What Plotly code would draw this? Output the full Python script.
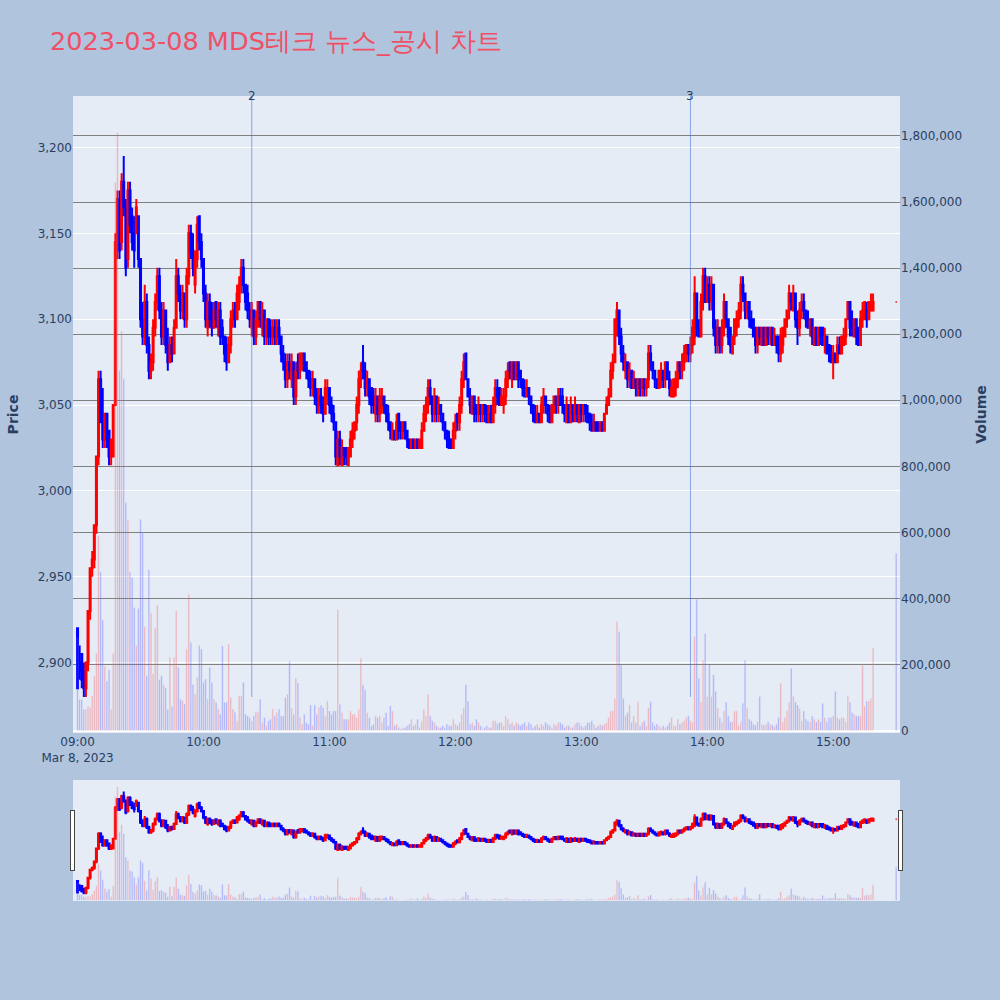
import pandas as pd
import plotly.graph_objects as go

# 1-minute candles, 09:00 ~ 15:19, then the 15:30 closing print
opens = [
    2920, 2900, 2905, 2895, 2885, 2900, 2930, 2955, 2960, 2980,
    3020, 3065, 3045, 3030, 3045, 3035, 3020, 3020, 3050, 3140,
    3170, 3145, 3180, 3165, 3135, 3175, 3160, 3150, 3150, 3160,
    3135, 3100, 3090, 3110, 3085, 3070, 3075, 3095, 3110, 3125,
    3105, 3090, 3105, 3085, 3075, 3085, 3080, 3095, 3125, 3115,
    3105, 3115, 3100, 3125, 3150, 3140, 3120, 3135, 3160, 3145,
    3135, 3115, 3095, 3110, 3105, 3095, 3110, 3095, 3105, 3095,
    3090, 3085, 3075, 3085, 3100, 3105, 3100, 3110, 3120, 3130,
    3120, 3115, 3105, 3095, 3105, 3090, 3100, 3110, 3095, 3105,
    3090, 3100, 3095, 3090, 3095, 3090, 3095, 3090, 3080, 3075,
    3065, 3075, 3065, 3075, 3055, 3075, 3070, 3075, 3080, 3075,
    3070, 3065, 3060, 3065, 3055, 3050, 3055, 3050, 3045, 3055,
    3060, 3050, 3045, 3040, 3015, 3030, 3015, 3025, 3025, 3015,
    3020, 3030, 3035, 3040, 3050, 3065, 3075, 3070, 3060, 3065,
    3060, 3055, 3045, 3055, 3045, 3050, 3055, 3050, 3045, 3040,
    3030, 3035, 3030, 3045, 3040, 3035, 3040, 3035, 3030, 3025,
    3030, 3025, 3030, 3025, 3025, 3035, 3045, 3050, 3060, 3055,
    3045, 3055, 3045, 3050, 3045, 3040, 3035, 3030, 3030, 3025,
    3035, 3045, 3040, 3050, 3065, 3080, 3065, 3055, 3045, 3055,
    3050, 3045, 3050, 3045, 3050, 3045, 3040, 3045, 3040, 3050,
    3060, 3060, 3050, 3050, 3055, 3065, 3075, 3065, 3075, 3065,
    3075, 3070, 3065, 3060, 3055, 3060, 3055, 3050, 3045, 3040,
    3045, 3040, 3050, 3055, 3050, 3045, 3040, 3050, 3055, 3050,
    3055, 3055, 3050, 3040, 3050, 3040, 3050, 3045, 3050, 3040,
    3050, 3045, 3050, 3045, 3045, 3040, 3035, 3040, 3040, 3035,
    3040, 3035, 3045, 3050, 3055, 3070, 3075, 3100, 3105, 3090,
    3080, 3070, 3075, 3065, 3070, 3060, 3065, 3060, 3065, 3060,
    3065, 3060, 3065, 3080, 3075, 3070, 3065, 3060, 3065, 3070,
    3065, 3075, 3065, 3055, 3055, 3060, 3065, 3075, 3070, 3075,
    3080, 3085, 3080, 3085, 3090, 3115, 3095, 3090, 3110, 3125,
    3110, 3120, 3110, 3120, 3095, 3085, 3095, 3085, 3095, 3110,
    3100, 3095, 3080, 3090, 3095, 3100, 3105, 3120, 3115, 3105,
    3110, 3100, 3100, 3095, 3085, 3095, 3085, 3095, 3085, 3095,
    3090, 3095, 3085, 3090, 3090, 3080, 3085, 3090, 3100, 3105,
    3115, 3105, 3115, 3100, 3095, 3105, 3110, 3105, 3100, 3095,
    3100, 3085, 3095, 3085, 3095, 3095, 3085, 3090, 3085, 3080,
    3075, 3080, 3075, 3085, 3080, 3085, 3090, 3100, 3110, 3100,
    3090, 3100, 3095, 3085, 3100, 3100, 3105, 3100, 3105, 3105,
    3110,
]
highs = [
    2920, 2910, 2905, 2900, 2900, 2930, 2955, 2965, 2980, 3020,
    3070, 3070, 3060, 3045, 3045, 3035, 3030, 3050, 3150, 3175,
    3175, 3185, 3195, 3170, 3180, 3180, 3165, 3160, 3170, 3160,
    3135, 3110, 3120, 3115, 3090, 3080, 3100, 3115, 3130, 3130,
    3110, 3110, 3105, 3095, 3090, 3090, 3100, 3135, 3130, 3120,
    3120, 3115, 3130, 3155, 3155, 3150, 3140, 3160, 3160, 3150,
    3135, 3120, 3115, 3115, 3110, 3110, 3110, 3110, 3110, 3100,
    3090, 3090, 3090, 3105, 3110, 3110, 3120, 3125, 3135, 3135,
    3120, 3120, 3110, 3110, 3105, 3105, 3110, 3110, 3110, 3105,
    3100, 3100, 3100, 3100, 3100, 3100, 3100, 3090, 3085, 3080,
    3080, 3080, 3080, 3075, 3075, 3080, 3080, 3080, 3080, 3075,
    3070, 3070, 3070, 3065, 3060, 3060, 3060, 3055, 3065, 3065,
    3060, 3055, 3050, 3040, 3035, 3035, 3030, 3025, 3025, 3025,
    3035, 3040, 3040, 3055, 3070, 3075, 3085, 3075, 3070, 3065,
    3060, 3060, 3060, 3055, 3060, 3060, 3055, 3050, 3050, 3040,
    3040, 3035, 3045, 3045, 3040, 3040, 3040, 3035, 3030, 3030,
    3030, 3030, 3030, 3030, 3040, 3050, 3055, 3065, 3065, 3055,
    3060, 3055, 3055, 3050, 3045, 3040, 3035, 3035, 3030, 3040,
    3045, 3045, 3055, 3070, 3080, 3080, 3065, 3060, 3055, 3055,
    3050, 3055, 3050, 3050, 3050, 3050, 3050, 3050, 3055, 3065,
    3065, 3060, 3060, 3060, 3070, 3075, 3075, 3075, 3075, 3075,
    3075, 3070, 3065, 3065, 3065, 3060, 3055, 3050, 3050, 3050,
    3045, 3055, 3060, 3055, 3050, 3050, 3050, 3055, 3055, 3060,
    3060, 3060, 3050, 3055, 3050, 3055, 3050, 3055, 3050, 3050,
    3050, 3050, 3050, 3050, 3045, 3045, 3045, 3040, 3040, 3040,
    3040, 3045, 3055, 3060, 3075, 3080, 3100, 3110, 3105, 3095,
    3085, 3080, 3075, 3075, 3070, 3070, 3065, 3065, 3065, 3065,
    3065, 3065, 3085, 3085, 3075, 3070, 3065, 3070, 3075, 3070,
    3075, 3075, 3070, 3065, 3065, 3070, 3075, 3075, 3080, 3085,
    3085, 3085, 3090, 3100, 3125, 3115, 3100, 3115, 3130, 3130,
    3125, 3125, 3125, 3120, 3100, 3100, 3095, 3100, 3115, 3110,
    3100, 3095, 3090, 3100, 3105, 3110, 3125, 3125, 3115, 3110,
    3110, 3105, 3100, 3095, 3095, 3095, 3095, 3095, 3095, 3095,
    3095, 3095, 3095, 3090, 3090, 3095, 3095, 3100, 3105, 3120,
    3115, 3120, 3115, 3105, 3110, 3115, 3115, 3105, 3105, 3100,
    3100, 3095, 3095, 3095, 3095, 3095, 3095, 3090, 3085, 3085,
    3085, 3080, 3090, 3090, 3090, 3095, 3100, 3110, 3110, 3105,
    3100, 3100, 3095, 3105, 3110, 3110, 3110, 3110, 3115, 3115,
    3110,
]
lows = [
    2885, 2890, 2885, 2880, 2880, 2895, 2925, 2950, 2955, 2975,
    3015, 3040, 3025, 3025, 3025, 3015, 3015, 3020, 3050, 3135,
    3135, 3140, 3160, 3125, 3130, 3150, 3140, 3130, 3150, 3130,
    3095, 3085, 3085, 3080, 3065, 3065, 3070, 3090, 3105, 3100,
    3085, 3085, 3080, 3070, 3075, 3075, 3080, 3095, 3110, 3100,
    3100, 3095, 3095, 3120, 3135, 3125, 3115, 3130, 3140, 3130,
    3110, 3095, 3090, 3095, 3090, 3095, 3095, 3090, 3085, 3085,
    3075, 3070, 3075, 3080, 3095, 3095, 3100, 3105, 3115, 3115,
    3105, 3100, 3095, 3090, 3085, 3085, 3095, 3095, 3090, 3085,
    3085, 3085, 3085, 3085, 3085, 3085, 3085, 3075, 3070, 3060,
    3060, 3065, 3060, 3050, 3050, 3065, 3065, 3070, 3070, 3065,
    3060, 3055, 3055, 3050, 3045, 3045, 3045, 3040, 3045, 3050,
    3045, 3040, 3035, 3015, 3015, 3015, 3015, 3015, 3015, 3015,
    3020, 3025, 3030, 3035, 3045, 3060, 3065, 3055, 3055, 3050,
    3045, 3045, 3040, 3040, 3040, 3045, 3045, 3040, 3035, 3030,
    3030, 3030, 3030, 3030, 3030, 3030, 3030, 3025, 3025, 3025,
    3025, 3025, 3025, 3025, 3025, 3035, 3040, 3045, 3050, 3040,
    3040, 3040, 3040, 3040, 3035, 3030, 3025, 3025, 3025, 3025,
    3030, 3035, 3035, 3045, 3060, 3065, 3055, 3045, 3045, 3040,
    3040, 3040, 3040, 3040, 3040, 3040, 3040, 3040, 3040, 3045,
    3050, 3050, 3050, 3045, 3050, 3060, 3065, 3060, 3065, 3065,
    3060, 3060, 3055, 3055, 3055, 3050, 3045, 3040, 3040, 3040,
    3040, 3040, 3045, 3045, 3040, 3040, 3040, 3045, 3045, 3045,
    3050, 3045, 3040, 3040, 3040, 3040, 3040, 3040, 3040, 3040,
    3040, 3040, 3040, 3040, 3035, 3035, 3035, 3035, 3035, 3035,
    3035, 3035, 3045, 3050, 3055, 3065, 3075, 3090, 3085, 3075,
    3070, 3065, 3060, 3060, 3060, 3060, 3055, 3055, 3055, 3055,
    3055, 3055, 3060, 3070, 3065, 3060, 3060, 3060, 3060, 3060,
    3060, 3065, 3055, 3055, 3055, 3055, 3060, 3065, 3065, 3070,
    3075, 3075, 3075, 3080, 3085, 3090, 3090, 3090, 3105, 3110,
    3110, 3105, 3105, 3090, 3080, 3080, 3080, 3080, 3090, 3095,
    3085, 3080, 3080, 3085, 3090, 3095, 3100, 3110, 3100, 3100,
    3095, 3095, 3090, 3080, 3080, 3085, 3085, 3085, 3085, 3085,
    3085, 3085, 3085, 3080, 3075, 3075, 3080, 3090, 3095, 3100,
    3105, 3105, 3095, 3085, 3090, 3100, 3100, 3095, 3095, 3090,
    3085, 3085, 3085, 3085, 3085, 3085, 3080, 3080, 3075, 3075,
    3065, 3075, 3075, 3080, 3080, 3085, 3085, 3100, 3090, 3090,
    3090, 3085, 3085, 3085, 3095, 3100, 3095, 3100, 3105, 3105,
    3110,
]
closes = [
    2885, 2895, 2890, 2885, 2900, 2930, 2955, 2960, 2980, 3020,
    3065, 3040, 3030, 3045, 3030, 3020, 3030, 3050, 3145, 3170,
    3140, 3180, 3165, 3130, 3175, 3155, 3145, 3140, 3165, 3135,
    3100, 3090, 3110, 3085, 3070, 3075, 3095, 3110, 3125, 3105,
    3090, 3105, 3085, 3075, 3085, 3080, 3095, 3125, 3115, 3105,
    3115, 3100, 3125, 3150, 3140, 3130, 3135, 3155, 3145, 3135,
    3115, 3100, 3110, 3100, 3095, 3105, 3100, 3105, 3090, 3090,
    3080, 3075, 3085, 3100, 3105, 3100, 3115, 3120, 3130, 3120,
    3110, 3105, 3100, 3105, 3090, 3100, 3110, 3100, 3105, 3090,
    3100, 3090, 3090, 3095, 3090, 3095, 3090, 3080, 3075, 3065,
    3075, 3070, 3075, 3055, 3070, 3070, 3080, 3080, 3070, 3070,
    3065, 3060, 3065, 3055, 3050, 3055, 3050, 3045, 3060, 3060,
    3050, 3045, 3040, 3020, 3030, 3020, 3025, 3020, 3020, 3025,
    3030, 3035, 3040, 3050, 3065, 3070, 3070, 3060, 3065, 3055,
    3050, 3050, 3055, 3045, 3055, 3055, 3050, 3045, 3040, 3035,
    3035, 3030, 3040, 3035, 3035, 3040, 3035, 3030, 3025, 3030,
    3025, 3030, 3025, 3030, 3035, 3045, 3050, 3060, 3055, 3045,
    3055, 3045, 3050, 3045, 3040, 3035, 3030, 3025, 3025, 3035,
    3040, 3040, 3050, 3065, 3075, 3065, 3055, 3050, 3055, 3045,
    3045, 3050, 3045, 3050, 3045, 3040, 3045, 3040, 3050, 3060,
    3055, 3050, 3055, 3055, 3065, 3070, 3070, 3075, 3065, 3075,
    3065, 3065, 3060, 3055, 3060, 3055, 3050, 3045, 3040, 3045,
    3040, 3050, 3055, 3050, 3045, 3040, 3050, 3055, 3050, 3055,
    3050, 3050, 3045, 3050, 3040, 3050, 3045, 3050, 3045, 3050,
    3045, 3050, 3045, 3040, 3040, 3035, 3040, 3035, 3035, 3040,
    3035, 3045, 3050, 3055, 3070, 3075, 3100, 3105, 3090, 3080,
    3075, 3075, 3065, 3070, 3060, 3065, 3060, 3065, 3060, 3065,
    3060, 3065, 3080, 3075, 3070, 3065, 3060, 3070, 3070, 3065,
    3075, 3065, 3060, 3060, 3065, 3065, 3075, 3070, 3075, 3080,
    3085, 3080, 3085, 3095, 3115, 3095, 3090, 3110, 3125, 3110,
    3120, 3110, 3120, 3095, 3085, 3095, 3085, 3095, 3110, 3100,
    3090, 3085, 3090, 3100, 3100, 3105, 3120, 3115, 3105, 3110,
    3100, 3095, 3090, 3085, 3095, 3090, 3095, 3085, 3095, 3090,
    3095, 3085, 3090, 3085, 3080, 3090, 3095, 3100, 3105, 3115,
    3110, 3115, 3100, 3095, 3105, 3110, 3105, 3100, 3095, 3100,
    3090, 3095, 3085, 3095, 3090, 3085, 3090, 3080, 3080, 3075,
    3080, 3075, 3085, 3080, 3090, 3090, 3100, 3110, 3095, 3095,
    3100, 3090, 3085, 3100, 3105, 3110, 3100, 3110, 3110, 3110,
    3110,
]
volumes = [
    280000, 95000, 95000, 65000, 65000, 75000, 70000, 105000, 165000, 235000,
    590000, 480000, 335000, 195000, 150000, 185000, 65000, 235000, 1660000, 1810000,
    1090000, 1210000, 1065000, 690000, 640000, 480000, 464000, 373000, 258000, 370000,
    640000, 600000, 315000, 167000, 487000, 357000, 172000, 310000, 380000, 155000,
    166000, 140000, 130000, 64000, 222000, 74000, 222000, 363000, 192000, 96000,
    91000, 81000, 247000, 412000, 267000, 140000, 111000, 162000, 258000, 247000,
    146000, 156000, 96000, 192000, 146000, 96000, 86000, 66000, 50000, 257000,
    86000, 86000, 262000, 101000, 66000, 56000, 30000, 106000, 106000, 146000,
    50000, 45000, 40000, 30000, 45000, 57000, 57000, 96000, 25000, 40000,
    15000, 30000, 35000, 66000, 45000, 56000, 66000, 45000, 45000, 100000,
    110000, 209000, 68000, 50000, 159000, 144000, 40000, 20000, 50000, 25000,
    20000, 78000, 15000, 78000, 50000, 70000, 78000, 70000, 45000, 90000,
    60000, 50000, 60000, 60000, 366000, 80000, 55000, 35000, 35000, 35000,
    60000, 50000, 50000, 40000, 65000, 219000, 139000, 124000, 55000, 40000,
    15000, 20000, 45000, 40000, 45000, 25000, 40000, 55000, 15000, 75000,
    60000, 15000, 20000, 10000, 5000, 10000, 10000, 15000, 20000, 35000,
    15000, 20000, 35000, 10000, 30000, 65000, 45000, 110000, 45000, 30000,
    25000, 15000, 10000, 10000, 15000, 10000, 20000, 15000, 15000, 35000,
    20000, 15000, 25000, 50000, 70000, 139000, 90000, 20000, 25000, 15000,
    35000, 25000, 15000, 5000, 10000, 15000, 10000, 10000, 30000, 30000,
    20000, 25000, 25000, 15000, 45000, 35000, 20000, 25000, 15000, 25000,
    20000, 15000, 20000, 25000, 15000, 25000, 20000, 10000, 15000, 20000,
    10000, 20000, 15000, 25000, 20000, 15000, 10000, 20000, 15000, 25000,
    25000, 20000, 10000, 15000, 15000, 10000, 10000, 20000, 25000, 25000,
    15000, 10000, 15000, 25000, 25000, 30000, 20000, 10000, 15000, 20000,
    15000, 20000, 25000, 40000, 60000, 60000, 98000, 330000, 300000, 199000,
    98000, 45000, 55000, 78000, 25000, 45000, 25000, 88000, 15000, 25000,
    30000, 15000, 70000, 88000, 25000, 15000, 20000, 15000, 10000, 15000,
    10000, 15000, 25000, 40000, 15000, 15000, 35000, 20000, 25000, 30000,
    40000, 45000, 30000, 25000, 285000, 398000, 159000, 87000, 213000, 294000,
    104000, 203000, 104000, 169000, 119000, 68000, 40000, 27000, 60000, 87000,
    45000, 27000, 27000, 60000, 60000, 17000, 27000, 83000, 213000, 68000,
    35000, 30000, 20000, 17000, 27000, 104000, 20000, 17000, 20000, 27000,
    20000, 17000, 12000, 20000, 40000, 144000, 27000, 40000, 60000, 87000,
    189000, 104000, 87000, 78000, 68000, 30000, 60000, 35000, 30000, 27000,
    45000, 35000, 27000, 35000, 27000, 83000, 40000, 27000, 40000, 40000,
    45000, 119000, 40000, 35000, 40000, 40000, 27000, 104000, 87000, 55000,
    50000, 45000, 45000, 45000, 199000, 75000, 90000, 90000, 98000, 250000,
    538000,
]

times = list(pd.date_range("2023-03-08 09:00", "2023-03-08 15:19", freq="min"))
times.append(pd.Timestamp("2023-03-08 15:30"))

# news / disclosure markers
news_times = ["2023-03-08 10:23", "2023-03-08 13:52"]
news_labels = ["2", "3"]

day_low = min(lows)
y_top = 3230

vol_colors = ["red" if c > o else "blue" for o, c in zip(opens, closes)]

fig = go.Figure()
fig.add_trace(go.Candlestick(
    x=times, open=opens, high=highs, low=lows, close=closes,
    increasing_line_color="red", increasing_fillcolor="red",
    decreasing_line_color="blue", decreasing_fillcolor="blue",
    name="Price",
))
fig.add_trace(go.Bar(
    x=times, y=volumes, marker_color=vol_colors, opacity=0.25,
    yaxis="y2", name="Volume",
))

for t, lab in zip(news_times, news_labels):
    fig.add_shape(type="line", xref="x", yref="y", x0=t, x1=t,
                  y0=day_low, y1=y_top,
                  line=dict(color="royalblue", width=1), opacity=0.55)
    fig.add_annotation(x=t, y=y_top, xref="x", yref="y", text=lab,
                       showarrow=False, font=dict(size=12, color="#2a3f5f"))

fig.update_layout(
    width=1000, height=1000,
    title=dict(text="2023-03-08 MDS테크 뉴스_공시 차트",
               font=dict(size=25.6, color="#EF5066"),
               x=0.05, xanchor="left", y=0.959, yanchor="middle"),
    font=dict(family="DejaVu Sans, Verdana, sans-serif"),
    paper_bgcolor="lightsteelblue",
    showlegend=False,
    margin=dict(l=73, r=100, t=96, b=100),
    xaxis=dict(range=["2023-03-08 08:57:50", "2023-03-08 15:31:50"],
               showgrid=False, rangeslider=dict(visible=True)),
    yaxis=dict(title=dict(text="<b>Price</b>"), range=[2859, y_top],
               tickformat=",", showgrid=True),
    yaxis2=dict(title=dict(text="<b>Volume</b>"), overlaying="y", side="right",
                range=[-7000, 1921000], tickformat=",", showgrid=True,
                gridcolor="gray"),
)

# drop the default page margin so the 1000x1000 figure fills the window
fig.write_html("out.html", config={"displayModeBar": False},
               post_script="document.body.style.margin='0';")
